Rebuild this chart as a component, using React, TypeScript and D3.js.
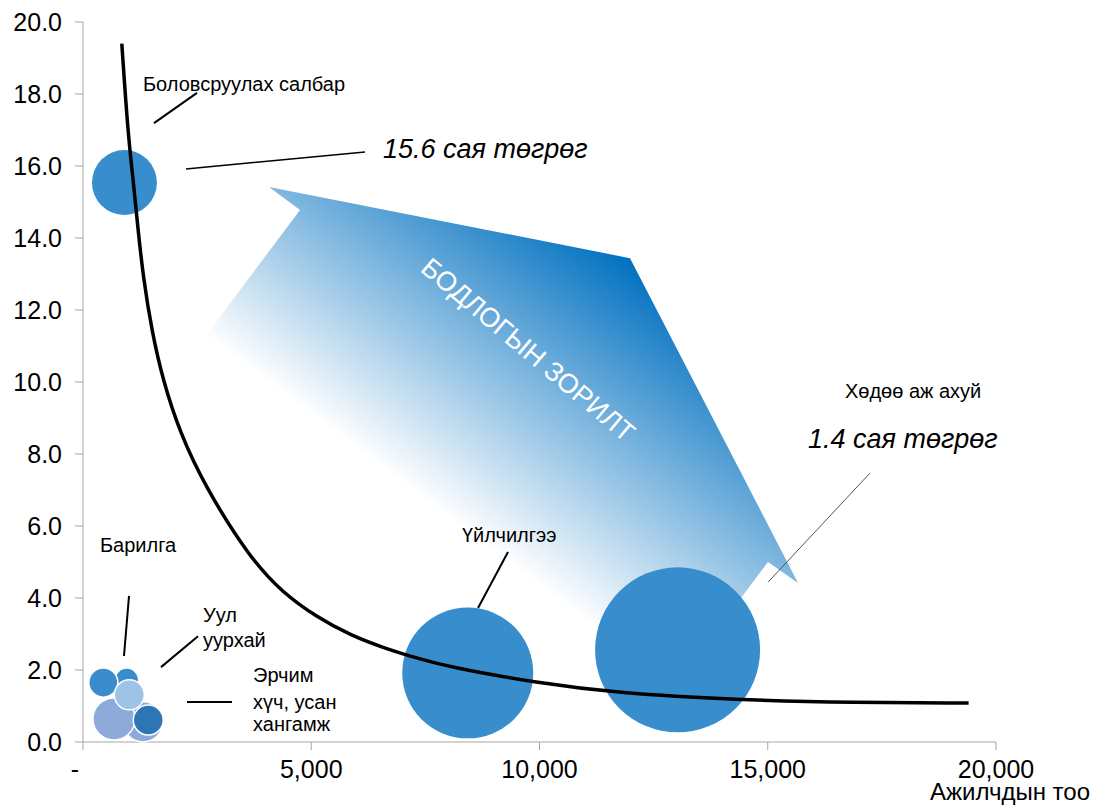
import React from "react";
import * as d3 from "d3";

const W = 1098;
const H = 806;
const FONT = "'Liberation Sans', Arial, Helvetica, sans-serif";

// Axis ticks
const xTicks = [0, 5000, 10000, 15000, 20000];
const xTickLabels = ["-", "5,000", "10,000", "15,000", "20,000"];
const yTicks = [0, 2, 4, 6, 8, 10, 12, 14, 16, 18, 20];
const xAxisTitle = "Ажилчдын тоо";

// Bubbles (x = employees, y = productivity, size = relative output)
const bubbleNames = [
  "Хөдөө аж ахуй",
  "Үйлчилгээ",
  "Боловсруулах салбар",
  "Эрчим хүч, усан хангамж",
  "Барилга (2)",
  "Барилга",
  "Бусад",
  "Уул уурхай",
  "Тээвэр",
];
const bubbleX = [13025, 8428, 908, 1314, 679, 957, 445, 1014, 1430];
const bubbleY = [2.56, 1.92, 15.54, 0.56, 0.64, 1.72, 1.65, 1.31, 0.61];
const bubbleSize = [100, 63, 15.5, 5.9, 6.5, 2.1, 3.1, 3.3, 3.3];
const bubbleColors = ["#388dcd", "#388dcd", "#388dcd", "#8eaadb", "#8eaadb", "#3a8dcd", "#3a8ccb", "#9dc3e6", "#2e75b6"];
const bubbleStroke = [false, false, false, true, true, true, true, true, true];

// Trend curve
const curveX = [850, 985, 1100, 1200, 1320, 1510, 1750, 2120, 2670, 3660, 4380, 5120, 5850, 6570, 7310, 8030, 9960, 11700, 14300, 16900, 19400];
const curveY = [19.4, 16.9, 15.6, 14.3, 12.9, 11.4, 10.05, 8.6, 7.1, 5.1, 4.14, 3.47, 2.97, 2.62, 2.33, 2.08, 1.64, 1.36, 1.17, 1.09, 1.08];

// Annotations (data coordinates)
const labelTexts = ["Боловсруулах салбар", "Хөдөө аж ахуй", "Барилга", "Үйлчилгээ"];
const labelX = [1314, 16692, 372, 8302];
const labelY = [18.09, 9.56, 5.28, 5.56];

const valueTexts = ["15.6 сая төгрөг", "1.4 сая төгрөг"];
const valueX = [6572, 15882];
const valueY = [16.23, 8.17];

const multiLines = [["Уул", "уурхай"], ["Эрчим", "хүч, усан", "хангамж"]];
const multiX = [2629, 3724];
const multiY = [[3.33, 2.64], [1.67, 0.92, 0.31]];

const leaderX1 = [1555, 2256, 15006, 898, 1709, 2278, 8653];
const leaderY1 = [17.19, 15.92, 4.44, 2.39, 2.08, 1.11, 3.72];
const leaderX2 = [2497, 6177, 17240, 1008, 2519, 3264, 9310];
const leaderY2 = [18.03, 16.39, 7.47, 4.06, 2.94, 1.11, 5.28];

// Policy arrow outline (data coordinates)
const arrowX = [1468, 4754, 4074, 11983, 15663, 15006, 11720];
const arrowY = [9.22, 14.78, 15.42, 13.44, 4.42, 5.0, -0.56];
const arrowText = "БОДЛОГЫН ЗОРИЛТ";

export default function App() {
  const x = d3.scaleLinear().domain([0, 20000]).range([83, 996]);
  const y = d3.scaleLinear().domain([0, 20]).range([742, 22]);
  const r = d3.scaleSqrt().domain([0, 100]).range([0, 82.5]);

  const curvePts: [number, number][] = curveX.map((v, i) => [v, curveY[i]]);
  const line = d3
    .line<[number, number]>()
    .x((d) => x(d[0]))
    .y((d) => y(d[1]))
    .curve(d3.curveBasis);

  const arrowPts = arrowX.map((v, i) => `${x(v)},${y(arrowY[i])}`).join(" ");

  return (
    <svg
      width={W}
      height={H}
      style={{ position: "absolute", left: 0, top: 0, display: "block", background: "#fff" }}
      fontFamily={FONT}
    >
      <defs>
        <linearGradient
          id="arrowGrad"
          gradientUnits="userSpaceOnUse"
          x1={x(7820)}
          y1={y(6.39)}
          x2={x(11983)}
          y2={y(13.44)}
        >
          <stop offset="0" stopColor="#0070c0" stopOpacity={0} />
          <stop offset="1" stopColor="#0070c0" stopOpacity={1} />
        </linearGradient>
      </defs>

      {/* policy arrow */}
      <polygon points={arrowPts} fill="url(#arrowGrad)" />
      <text
        transform={`translate(${x(9748)},${y(10.89)}) rotate(40)`}
        textAnchor="middle"
        dominantBaseline="central"
        fill="#fff"
        fontSize={27}
      >
        {arrowText}
      </text>

      {/* axes */}
      <g>
        <line x1={x(0)} x2={x(0)} y1={y(0)} y2={y(20)} stroke="#a6a6a6" strokeWidth={1} />
        {yTicks.map((t) => (
          <g key={"y" + t}>
            <line x1={x(0) - 8} x2={x(0)} y1={y(t)} y2={y(t)} stroke="#a6a6a6" />
            <text x={x(0) - 21} y={y(t)} dy="0.36em" textAnchor="end" fontSize={25} fill="#000">
              {d3.format(".1f")(t)}
            </text>
          </g>
        ))}
        <line x1={x(0)} x2={x(20000)} y1={y(0)} y2={y(0)} stroke="#a6a6a6" strokeWidth={1} />
        {xTicks.map((t, i) => (
          <g key={"x" + t}>
            <line x1={x(t)} x2={x(t)} y1={y(0)} y2={y(0) + 8} stroke="#a6a6a6" />
            <text
              x={x(t) + (i === 0 ? -8 : 0)}
              y={y(0) + 36}
              textAnchor="middle"
              fontSize={25}
              fill="#000"
            >
              {xTickLabels[i]}
            </text>
          </g>
        ))}
        <text x={1090} y={800} textAnchor="end" fontSize={24} fill="#000">
          {xAxisTitle}
        </text>
      </g>

      {/* bubbles */}
      {bubbleX.map((bx, i) => (
        <circle
          key={bubbleNames[i]}
          cx={x(bx)}
          cy={y(bubbleY[i])}
          r={r(bubbleSize[i])}
          fill={bubbleColors[i]}
          stroke={bubbleStroke[i] ? "#fff" : "none"}
          strokeWidth={bubbleStroke[i] ? 1.5 : 0}
        />
      ))}

      {/* trend curve */}
      <path d={line(curvePts) || ""} fill="none" stroke="#000" strokeWidth={3.5} />

      {/* leader lines */}
      {leaderX1.map((lx, i) => (
        <line
          key={"l" + i}
          x1={x(lx)}
          y1={y(leaderY1[i])}
          x2={x(leaderX2[i])}
          y2={y(leaderY2[i])}
          stroke={i === 2 ? "#555" : "#000"}
          strokeWidth={i === 2 ? 1 : i === 1 ? 1.5 : 2}
        />
      ))}

      {/* labels */}
      {labelTexts.map((t, i) => (
        <text key={t} x={x(labelX[i])} y={y(labelY[i])} fontSize={20} fill="#000">
          {t}
        </text>
      ))}
      {valueTexts.map((t, i) => (
        <text key={t} x={x(valueX[i])} y={y(valueY[i])} fontSize={27} fontStyle="italic" fill="#000">
          {t}
        </text>
      ))}
      {multiLines.map((lines, i) =>
        lines.map((t, j) => (
          <text key={t} x={x(multiX[i])} y={y(multiY[i][j])} fontSize={20} fill="#000">
            {t}
          </text>
        ))
      )}
    </svg>
  );
}
